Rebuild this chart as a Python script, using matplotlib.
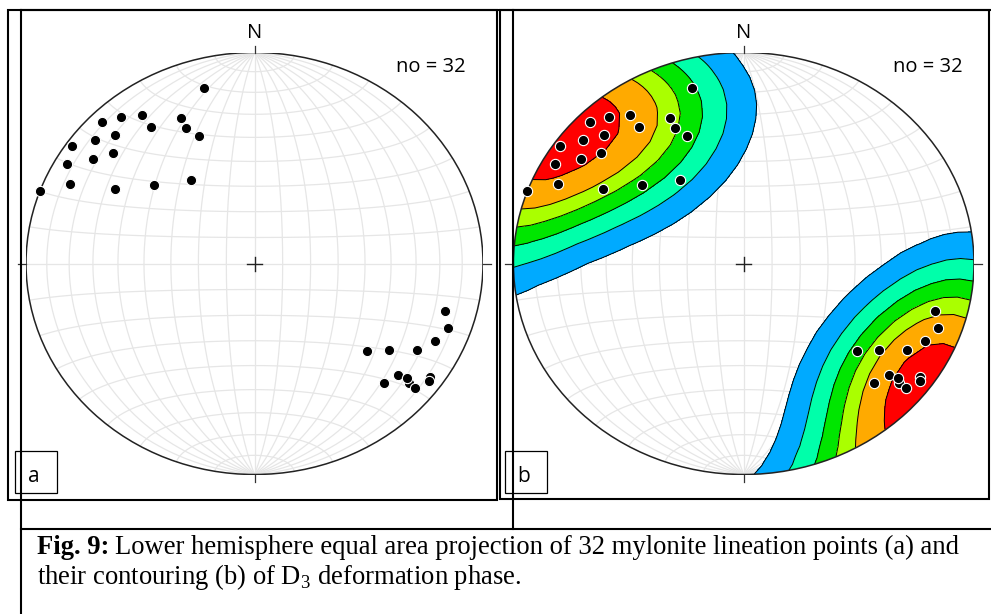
import numpy as np
import matplotlib.pyplot as plt
from matplotlib.patches import Circle, Rectangle

# mylonite lineations, trend / plunge in degrees
trend = [345, 315, 320, 325, 335, 325, 335, 338, 315, 310, 305, 310, 305, 300,
         295, 300, 310, 325, 290,
         105, 110, 115, 130, 125, 120, 130, 135, 130, 130, 125, 129, 126]
plunge = [15, 6, 10, 15, 25, 22, 30, 35, 15, 10, 3, 20, 15, 6,
          12, 30, 42, 50, 0,
          15, 11, 14, 36, 29, 19, 19, 21, 13, 9, 7, 15, 6]

n_pts = len(trend)
sigma = 3.5
contour_levels = [2.4, 4.2, 6.0, 7.8, 9.6, 12.4, 100]
contour_colors = ['#00aaff', '#00ffaa', '#00e600', '#aaff00', '#ffaa00', '#ff0000']

W, H = 991, 614
fig = plt.figure(figsize=(W / 100, H / 100), dpi=100)


def project(tr, pl):
    # lower hemisphere equal area, unit primitive
    tr = np.radians(np.asarray(tr, float))
    pl = np.radians(np.asarray(pl, float))
    r = np.sqrt(2) * np.sin((np.pi / 2 - pl) / 2)
    return r * np.sin(tr), r * np.cos(tr)


def net_line(lon, lat):
    lon = np.radians(lon)
    lat = np.radians(lat)
    k = np.sqrt(2 / (1 + np.cos(lat) * np.cos(lon)))
    return k * np.cos(lat) * np.sin(lon) / np.sqrt(2), k * np.sin(lat) / np.sqrt(2)


def to_vec(tr, pl):
    return np.stack([np.cos(pl) * np.sin(tr), np.cos(pl) * np.cos(tr), np.sin(pl)], axis=-1)


def density(gx, gy):
    # exponential kamb (mplstereonet default)
    r = np.clip(np.hypot(gx, gy), 0, np.sqrt(2))
    gpl = np.pi / 2 - 2 * np.arcsin(r / np.sqrt(2))
    gtr = np.arctan2(gx, gy)
    cosd = np.abs(to_vec(gtr, gpl) @ to_vec(np.radians(trend), np.radians(plunge)).T)
    f = 2 * (1.0 + n_pts / sigma ** 2)
    units = np.sqrt(n_pts * (f / 2.0 - 1) / f ** 2)
    d = (np.exp(f * (cosd - 1)).sum(axis=-1) - 0.5) / units
    return np.clip(d, 0, None)


def stereonet(cx, cy, rx, ry, contoured=False):
    ax = fig.add_axes([(cx - rx) / W, 1 - (cy + ry) / H, 2 * rx / W, 2 * ry / H])
    ax.set_xlim(-1, 1)
    ax.set_ylim(-1, 1)
    ax.axis('off')
    t = np.linspace(-90, 90, 181)
    for v in range(-80, 90, 10):
        x, y = net_line(v, t)
        ax.plot(x, y, color='#e6e6e6', lw=0.9, zorder=1)
        x, y = net_line(t, v)
        ax.plot(x, y, color='#e6e6e6', lw=0.9, zorder=1)
    prim = Circle((0, 0), 1, fill=False, ec='#222222', lw=1.1, zorder=5)
    ax.add_patch(prim)
    if contoured:
        # coarse counting grid -> angular contour lines
        lon, lat = np.meshgrid(np.linspace(-90, 90, 29), np.linspace(-90, 90, 29))
        gx, gy = net_line(lon, lat)
        d = density(gx, gy)
        cs = ax.contourf(gx, gy, d, levels=contour_levels, colors=contour_colors, zorder=2)
        cs.set_clip_path(prim)
        cl = ax.contour(gx, gy, d, levels=contour_levels[:-1], colors='black',
                        linewidths=0.7, zorder=3)
        cl.set_clip_path(prim)
    x, y = project(trend, plunge)
    ax.plot(x, y, 'o', ms=7.4, mfc='black', mec='white', mew=0.8, zorder=6)
    ex, ey = 7.5 / rx, 7.0 / ry
    ax.plot([-ex, ex], [0, 0], color='#222222', lw=1.0, zorder=6)
    ax.plot([0, 0], [-ey, ey], color='#222222', lw=1.0, zorder=6)
    tx, ty = 8.0 / rx, 7.0 / ry
    for xs, ys in [([0, 0], [1, 1 + ty]), ([0, 0], [-1, -1 - ty]),
                   ([-1, -1 - tx], [0, 0]), ([1, 1 + tx], [0, 0])]:
        ax.plot(xs, ys, color='#333333', lw=0.9, clip_on=False, zorder=6)
    return ax


stereonet(254.5, 263.5, 228.5, 211)
stereonet(743.7, 263.5, 230.3, 211, contoured=True)

# frames, table lines and caption in pixel coordinates
ov = fig.add_axes([0, 0, 1, 1], zorder=10)
ov.set_xlim(0, W)
ov.set_ylim(H, 0)
ov.axis('off')
ov.patch.set_alpha(0)

lw = 1.5
ov.add_patch(Rectangle((8, 10), 489, 490, fill=False, ec='black', lw=lw))
ov.add_patch(Rectangle((500, 10), 489, 489, fill=False, ec='black', lw=lw))
ov.plot([21, 21], [10, 614], color='black', lw=lw)
ov.plot([513, 513], [10, 529], color='black', lw=lw)
ov.plot([21, 991], [10, 10], color='black', lw=lw)
ov.plot([21, 991], [529, 529], color='black', lw=lw)

for bx, lab in [(15, 'a'), (505, 'b')]:
    ov.add_patch(Rectangle((bx, 451), 42, 42, fill=False, ec='black', lw=0.9))
    ov.text(bx + 19, 476, lab, fontsize=15, family='Open Sans', ha='center', va='center')

for cx in [254.5, 743.7]:
    ov.text(cx, 33, 'N', fontsize=14.5, family='Open Sans', ha='center', va='center')
ov.text(431, 67, 'no = %d' % n_pts, fontsize=14.5, family='Open Sans', ha='center', va='center')
ov.text(928, 67, 'no = %d' % n_pts, fontsize=14.5, family='Open Sans', ha='center', va='center')

plt.rcParams['mathtext.fontset'] = 'custom'
plt.rcParams['mathtext.rm'] = 'Liberation Serif'
cap = 19.2
t1 = ov.text(37, 554, 'Fig. 9:', fontsize=cap, family='Liberation Serif', weight='bold',
             va='baseline')
fig.canvas.draw()
bb = t1.get_window_extent()
ov.text(bb.x1 + 6, 554, 'Lower hemisphere equal area projection of 32 mylonite lineation points (a) and',
        fontsize=cap, family='Liberation Serif', va='baseline')
ov.text(37, 584, r'their contouring (b) of D$_\mathrm{3}$ deformation phase.',
        fontsize=cap, family='Liberation Serif', va='baseline')

fig.savefig('out.png', dpi=100)
